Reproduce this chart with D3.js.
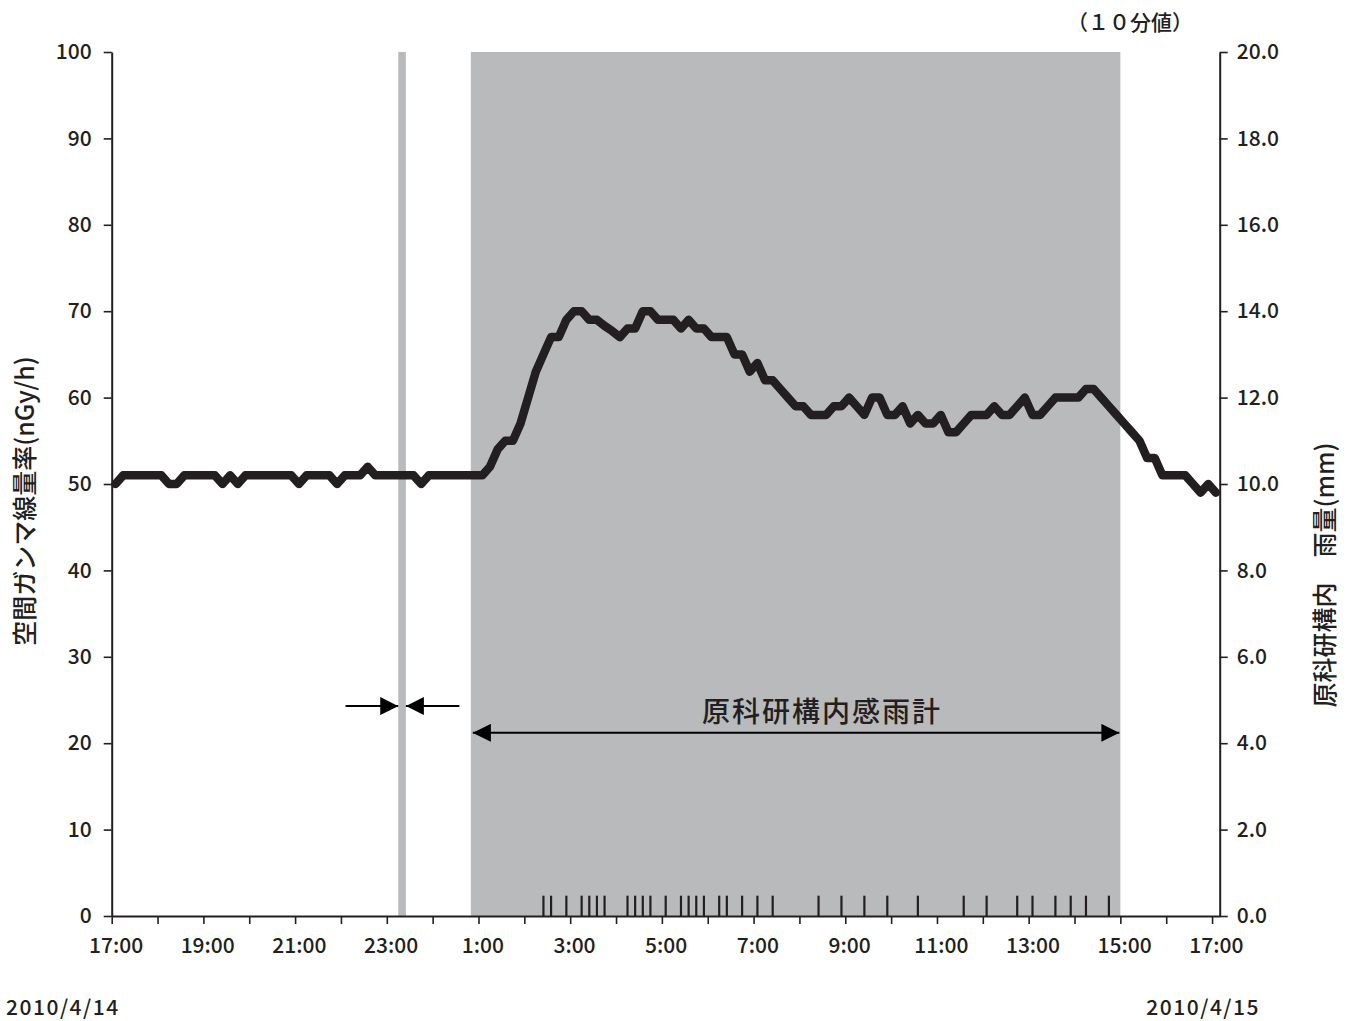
<!DOCTYPE html>
<html><head><meta charset="utf-8">
<script src="https://cdn.jsdelivr.net/npm/d3@7"></script>
<style>
body{margin:0;background:#fff;}
svg text{font-family:"Noto Sans CJK JP","Noto Sans",sans-serif;fill:#231f20;font-weight:500;}
</style></head>
<body><svg id="c" width="1349" height="1021"></svg>
<script>
// ---------- data ----------
// 10-minute categories from 2010/4/14 17:00 to 2010/4/15 17:00
const startHour = 17;
const categories = d3.range(145).map(i => {
  const m = (startHour * 60 + i * 10) % 1440;
  return Math.floor(m / 60) + ":" + String(m % 60).padStart(2, "0");
});
// 空間ガンマ線量率 (nGy/h), 10分値
const gammaValues = [
50,51,51,51,51,51,51,50,50,51,
51,51,51,51,50,51,50,51,51,51,
51,51,51,51,50,51,51,51,51,50,
51,51,51,52,51,51,51,51,51,51,
50,51,51,51,51,51,51,51,51,52,
54,55,55,57,60,63,65,67,67,69,
70,70,69,69,68.3,67.7,67,68,68,70,
70,69,69,69,68,69,68,68,67,67,
67,65,65,63,64,62,62,61,60,59,
59,58,58,58,59,59,60,59,58,60,
60,58,58,59,57,58,57,57,58,56,
56,57,58,58,58,59,58,58,59,60,
58,58,59,60,60,60,60,61,61,60,
59,58,57,56,55,53,53,51,51,51,
51,50,49,50,49
];
// 原科研構内感雨計: times with rain detected
const rainTimes = ["2:20","2:30","2:50","3:10","3:20","3:30","3:40","4:10","4:20","4:30","4:40",
  "5:00","5:20","5:30","5:40","5:50","6:10","6:20","6:40","7:00","7:20","8:20","8:50",
  "9:20","9:50","10:30","11:30","12:00","12:40","13:00","13:30","13:50","14:10","14:40"];
const rainValues = rainTimes.map(() => 0.47);
// shaded rain period and short rain period
const rainPeriod = ["0:50", "15:00"];
const shortRain = ["23:10", "23:20"];
// tick labels
const leftTicks = [0,10,20,30,40,50,60,70,80,90,100];
const rightTicks = [0,2,4,6,8,10,12,14,16,18,20];
const xLabels = ["17:00","19:00","21:00","23:00","1:00","3:00","5:00","7:00","9:00","11:00","13:00","15:00","17:00"];
const dateLabels = ["2010/4/14", "2010/4/15"];

// ---------- layout ----------
const L = 111.7, R = 1219.7, T = 52, B = 916;
const ink = "#231f20", gray = "#b9babc";
const svg = d3.select("#c");
const xi = d3.scaleLinear().domain([0, 145]).range([L, R]);   // category index
const yL = d3.scaleLinear().domain([0, 100]).range([B, T]);
const yR = d3.scaleLinear().domain([0, 20]).range([B, T]);
const idx = t => categories.indexOf(t);

// shaded rain period
svg.append("rect")
  .attr("x", xi(idx(rainPeriod[0]))).attr("y", yL(100))
  .attr("width", xi(idx(rainPeriod[1])) - xi(idx(rainPeriod[0])))
  .attr("height", yL(0) - yL(100)).attr("fill", gray);
// short rain band
svg.append("rect")
  .attr("x", xi(idx(shortRain[0]) + 0.5)).attr("y", yL(100))
  .attr("width", xi(idx(shortRain[1]) + 0.5) - xi(idx(shortRain[0]) + 0.5))
  .attr("height", yL(0) - yL(100)).attr("fill", gray);

// rain bars
svg.append("g").selectAll("line").data(rainTimes).join("line")
  .attr("x1", t => xi(idx(t) + 0.5)).attr("x2", t => xi(idx(t) + 0.5))
  .attr("y1", yR(0)).attr("y2", (t, i) => yR(rainValues[i]))
  .attr("stroke", ink).attr("stroke-width", 2.2);

// axes
function styleAxis(g) {
  g.selectAll(".domain").attr("stroke", ink).attr("stroke-width", 2);
  g.selectAll(".tick line").attr("stroke", ink).attr("stroke-width", 1.6);
  g.selectAll("text").attr("fill", ink).style("font-size", "21px");
}
svg.append("g").attr("transform", `translate(${L},0)`)
  .call(d3.axisLeft(yL).tickValues(leftTicks).tickSize(8).tickSizeOuter(0).tickPadding(12).tickFormat(d => d))
  .call(styleAxis);
svg.append("g").attr("transform", `translate(${R},0)`)
  .call(d3.axisRight(yR).tickValues(rightTicks).tickSize(8).tickSizeOuter(0).tickPadding(9).tickFormat(d3.format(".1f")))
  .call(styleAxis);
svg.append("g").attr("transform", `translate(0,${B})`)
  .call(d3.axisBottom(xi).tickValues(d3.range(0, 145, 6)).tickSize(8).tickSizeOuter(0).tickFormat(""))
  .call(styleAxis);
const xl = svg.append("g").attr("transform", `translate(0,${B})`)
  .call(d3.axisBottom(xi).tickValues(xLabels.map((d, i) => i * 12 + 0.5)).tickSize(0).tickPadding(22)
        .tickFormat((d, i) => xLabels[i]))
  .call(styleAxis);
xl.select(".domain").remove();

// gamma line
svg.append("path").datum(gammaValues)
  .attr("d", d3.line().x((d, i) => xi(i + 0.5)).y(d => yL(d)))
  .attr("fill", "none").attr("stroke", ink).attr("stroke-width", 8.5)
  .attr("stroke-linejoin", "round").attr("stroke-linecap", "round");

// arrows
const defs = svg.append("defs");
defs.append("marker").attr("id", "ah").attr("viewBox", "0 0 10 10").attr("refX", 10).attr("refY", 5)
  .attr("markerWidth", 18).attr("markerHeight", 18).attr("markerUnits", "userSpaceOnUse")
  .attr("orient", "auto-start-reverse")
  .append("path").attr("d", "M0,0 L10,5 L0,10 Z").attr("fill", "#000");

const shortArrowY = yL(24.3);
const leftTail = 30.6, rightTail = 45.5; // category positions of arrow tails
svg.append("line").attr("x1", xi(leftTail)).attr("x2", xi(idx(shortRain[0]) + 0.5))
  .attr("y1", shortArrowY).attr("y2", shortArrowY).attr("stroke", "#000").attr("stroke-width", 2)
  .attr("marker-end", "url(#ah)");
svg.append("line").attr("x1", xi(rightTail)).attr("x2", xi(idx(shortRain[1]) + 0.5))
  .attr("y1", shortArrowY).attr("y2", shortArrowY).attr("stroke", "#000").attr("stroke-width", 2)
  .attr("marker-end", "url(#ah)");

const longArrowY = yL(21.2);
svg.append("line").attr("x1", xi(idx(rainPeriod[0])) + 2).attr("x2", xi(idx(rainPeriod[1])) - 1)
  .attr("y1", longArrowY).attr("y2", longArrowY).attr("stroke", "#000").attr("stroke-width", 2)
  .attr("marker-start", "url(#ah)").attr("marker-end", "url(#ah)");
svg.append("text").attr("x", 822)
  .attr("y", yL(22.4)).attr("text-anchor", "middle").style("font-size", "28px")
  .style("letter-spacing", "2px").text("原科研構内感雨計");

// axis titles
svg.append("text").attr("transform", `translate(34,501) rotate(-90)`)
  .attr("text-anchor", "middle").style("font-size", "25px").text("空間ガンマ線量率(nGy/h)");
svg.append("text").attr("transform", `translate(1334,575) rotate(-90)`)
  .attr("text-anchor", "middle").style("font-size", "25px").text("原科研構内　雨量(mm)");
svg.append("text").attr("x", 1130).attr("y", 30).attr("text-anchor", "middle")
  .style("font-size", "21px").text("（１０分値）");

// dates
svg.append("text").attr("x", 6).attr("y", 1015).style("font-size", "21px")
  .style("letter-spacing", "1.5px").text(dateLabels[0]);
svg.append("text").attr("x", 1260).attr("y", 1015).attr("text-anchor", "end").style("font-size", "21px")
  .style("letter-spacing", "1.5px").text(dateLabels[1]);
</script></body></html>
